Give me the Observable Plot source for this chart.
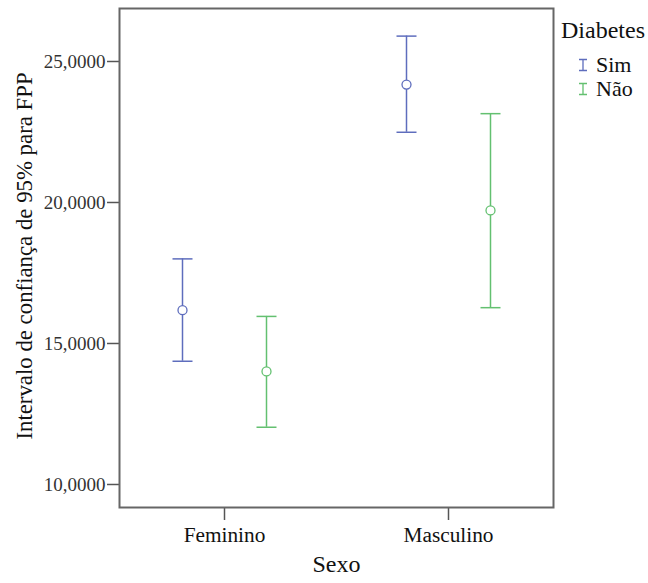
<!DOCTYPE html>
<html>
<head>
<meta charset="utf-8">
<script src="https://cdn.jsdelivr.net/npm/d3@7"></script>
<script src="https://cdn.jsdelivr.net/npm/@observablehq/plot@0.6"></script>
<style>
  body { margin: 0; background: #fff; }
  #wrap { position: relative; width: 648px; height: 583px; font-family: "Times New Roman", "Liberation Serif", "DejaVu Serif", serif; }
  #legend { position: absolute; left: 0; top: 0; pointer-events: none; }
</style>
</head>
<body>
<div id="wrap">
  <div id="chart"></div>
  <svg id="legend" width="648" height="120"></svg>
</div>
<script>
// Categories
const sexo = ["Feminino", "Masculino"];
const diabetes = ["Sim", "Não"];
const cores = ["#5e6dbd", "#63c070"];
// Mean and 95% CI per (diabetes, sexo)
const mediaSim = [16.18, 24.18];
const inferiorSim = [14.37, 22.49];
const superiorSim = [18.00, 25.90];
const mediaNao = [14.01, 19.72];
const inferiorNao = [12.03, 16.27];
const superiorNao = [15.96, 23.15];
const yTicks = [10, 15, 20, 25];

const series = [
  {grupo: "Sim", media: mediaSim, inferior: inferiorSim, superior: superiorSim},
  {grupo: "Não", media: mediaNao, inferior: inferiorNao, superior: superiorNao}
];
const rows = [];
series.forEach(s => sexo.forEach((x, i) => rows.push({
  sexo: x, diabetes: s.grupo, media: s.media[i], inferior: s.inferior[i], superior: s.superior[i]
})));

const offset = {"Sim": -42, "Não": 42};
const cap = {draw(ctx) { ctx.moveTo(-10, 0); ctx.lineTo(10, 0); }};
const font = "'Times New Roman', 'Liberation Serif', 'DejaVu Serif', serif";

const marks = [];
diabetes.forEach((g, gi) => {
  const d = rows.filter(r => r.diabetes === g);
  const col = cores[gi];
  marks.push(
    Plot.ruleX(d, {x: "sexo", y1: "inferior", y2: "superior", stroke: col, strokeWidth: 1.5, dx: offset[g]}),
    Plot.dot(d, {x: "sexo", y: "superior", symbol: cap, stroke: col, strokeWidth: 1.5, dx: offset[g]}),
    Plot.dot(d, {x: "sexo", y: "inferior", symbol: cap, stroke: col, strokeWidth: 1.5, dx: offset[g]}),
    Plot.dot(d, {x: "sexo", y: "media", r: 4.5, stroke: col, fill: "white", strokeWidth: 1.3, dx: offset[g]})
  );
});

const chart = Plot.plot({
  width: 648,
  height: 583,
  marginLeft: 119,
  marginRight: 95,
  marginTop: 8,
  marginBottom: 76,
  style: {fontFamily: font, background: "white", overflow: "visible"},
  x: {type: "point", domain: sexo, padding: 0.466, axis: null},
  y: {domain: [9.184, 26.879], axis: null},
  marks: [
    Plot.axisY({ticks: yTicks, tickSize: 12, tickPadding: 2, tickFormat: d => d.toFixed(4).replace(".", ","),
      fontSize: 19, fill: "#333", stroke: "#555", strokeWidth: 1.5, label: null}),
    Plot.axisX({tickSize: 13, tickPadding: 6, fontSize: 21.3, fill: "#111", stroke: "#555", strokeWidth: 1.5, label: null}),
    Plot.text(["Sexo"], {text: d => d, frameAnchor: "bottom", dy: 64, fontSize: 24, fill: "#111"}),
    Plot.text(["Intervalo de confiança de 95% para FPP"], {text: d => d, frameAnchor: "left", textAnchor: "middle",
      rotate: -90, dx: -95, dy: -2, fontSize: 22.8, fill: "#111"}),
    ...marks,
    Plot.frame({stroke: "#666", strokeWidth: 2})
  ]
});
document.getElementById("chart").appendChild(chart);

// Legend
const lg = d3.select("#legend").style("font-family", font);
lg.append("text").attr("x", 561).attr("y", 38).attr("font-size", 24).attr("fill", "#111").text("Diabetes");
const item = lg.selectAll("g.item").data(diabetes).join("g")
  .attr("class", "item")
  .attr("transform", (d, i) => `translate(0, ${72 + i * 24})`);
item.append("path")
  .attr("d", "M579,-12.5H587M583,-12.5V-1.5M579,-1.5H587")
  .attr("stroke", (d, i) => cores[i]).attr("stroke-width", 1.3).attr("fill", "none");
item.append("text").attr("x", 596).attr("y", 0).attr("font-size", 22).attr("fill", "#111").text(d => d);
</script>
</body>
</html>
